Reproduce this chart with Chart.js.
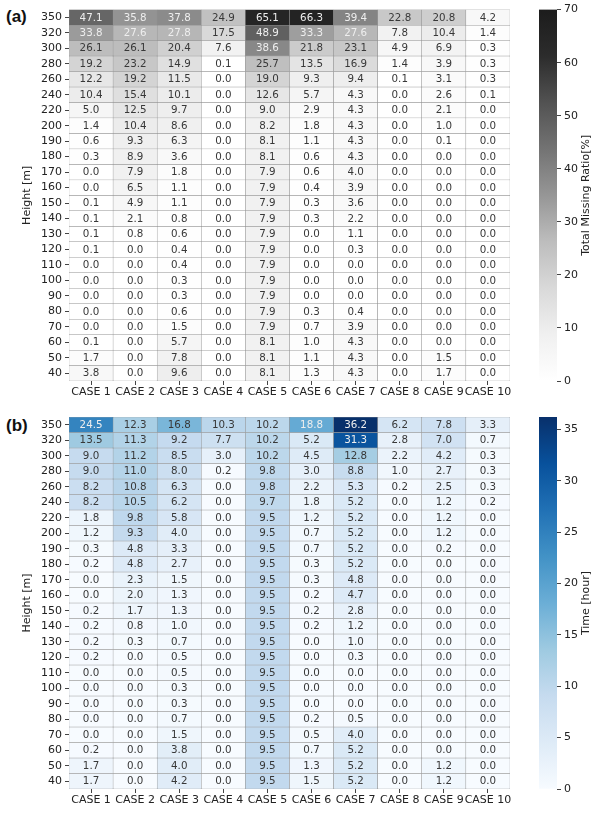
<!DOCTYPE html>
<html>
<head>
<meta charset="utf-8">
<script src="https://cdn.jsdelivr.net/npm/chart.js@4.4.0/dist/chart.umd.min.js"></script>
<style>
  body { margin: 0; background: #fff; width: 593px; height: 813px; position: relative; overflow: hidden; }
  canvas { position: absolute; }
  .tag { position: absolute; font: bold 17px "Liberation Sans", sans-serif; color: #111; }
</style>
</head>
<body>
<div class="tag" style="left:6px;top:7px">(a)</div>
<div class="tag" style="left:6px;top:416px">(b)</div>
<canvas id="heatA" width="522" height="405" style="left:0;top:0"></canvas>
<canvas id="barA" width="63" height="405" style="left:530px;top:0"></canvas>
<canvas id="heatB" width="522" height="408" style="left:0;top:405px"></canvas>
<canvas id="barB" width="63" height="408" style="left:530px;top:405px"></canvas>
<script>
const heights = [350, 320, 300, 280, 260, 240, 220, 200, 190, 180, 170, 160, 150, 140, 130, 120, 110, 100, 90, 80, 70, 60, 50, 40];
const cases = ['CASE 1', 'CASE 2', 'CASE 3', 'CASE 4', 'CASE 5', 'CASE 6', 'CASE 7', 'CASE 8', 'CASE 9', 'CASE 10'];

// (a) total missing ratio [%], one row per height, top to bottom
const missingRatio = [
  [47.1, 35.8, 37.8, 24.9, 65.1, 66.3, 39.4, 22.8, 20.8, 4.2],
  [33.8, 27.6, 27.8, 17.5, 48.9, 33.3, 27.6, 7.8, 10.4, 1.4],
  [26.1, 26.1, 20.4, 7.6, 38.6, 21.8, 23.1, 4.9, 6.9, 0.3],
  [19.2, 23.2, 14.9, 0.1, 25.7, 13.5, 16.9, 1.4, 3.9, 0.3],
  [12.2, 19.2, 11.5, 0.0, 19.0, 9.3, 9.4, 0.1, 3.1, 0.3],
  [10.4, 15.4, 10.1, 0.0, 12.6, 5.7, 4.3, 0.0, 2.6, 0.1],
  [5.0, 12.5, 9.7, 0.0, 9.0, 2.9, 4.3, 0.0, 2.1, 0.0],
  [1.4, 10.4, 8.6, 0.0, 8.2, 1.8, 4.3, 0.0, 1.0, 0.0],
  [0.6, 9.3, 6.3, 0.0, 8.1, 1.1, 4.3, 0.0, 0.1, 0.0],
  [0.3, 8.9, 3.6, 0.0, 8.1, 0.6, 4.3, 0.0, 0.0, 0.0],
  [0.0, 7.9, 1.8, 0.0, 7.9, 0.6, 4.0, 0.0, 0.0, 0.0],
  [0.0, 6.5, 1.1, 0.0, 7.9, 0.4, 3.9, 0.0, 0.0, 0.0],
  [0.1, 4.9, 1.1, 0.0, 7.9, 0.3, 3.6, 0.0, 0.0, 0.0],
  [0.1, 2.1, 0.8, 0.0, 7.9, 0.3, 2.2, 0.0, 0.0, 0.0],
  [0.1, 0.8, 0.6, 0.0, 7.9, 0.0, 1.1, 0.0, 0.0, 0.0],
  [0.1, 0.0, 0.4, 0.0, 7.9, 0.0, 0.3, 0.0, 0.0, 0.0],
  [0.0, 0.0, 0.4, 0.0, 7.9, 0.0, 0.0, 0.0, 0.0, 0.0],
  [0.0, 0.0, 0.3, 0.0, 7.9, 0.0, 0.0, 0.0, 0.0, 0.0],
  [0.0, 0.0, 0.3, 0.0, 7.9, 0.0, 0.0, 0.0, 0.0, 0.0],
  [0.0, 0.0, 0.6, 0.0, 7.9, 0.3, 0.4, 0.0, 0.0, 0.0],
  [0.0, 0.0, 1.5, 0.0, 7.9, 0.7, 3.9, 0.0, 0.0, 0.0],
  [0.1, 0.0, 5.7, 0.0, 8.1, 1.0, 4.3, 0.0, 0.0, 0.0],
  [1.7, 0.0, 7.8, 0.0, 8.1, 1.1, 4.3, 0.0, 1.5, 0.0],
  [3.8, 0.0, 9.6, 0.0, 8.1, 1.3, 4.3, 0.0, 1.7, 0.0]
];

// (b) time [hour]
const missingTime = [
  [24.5, 12.3, 16.8, 10.3, 10.2, 18.8, 36.2, 6.2, 7.8, 3.3],
  [13.5, 11.3, 9.2, 7.7, 10.2, 5.2, 31.3, 2.8, 7.0, 0.7],
  [9.0, 11.2, 8.5, 3.0, 10.2, 4.5, 12.8, 2.2, 4.2, 0.3],
  [9.0, 11.0, 8.0, 0.2, 9.8, 3.0, 8.8, 1.0, 2.7, 0.3],
  [8.2, 10.8, 6.3, 0.0, 9.8, 2.2, 5.3, 0.2, 2.5, 0.3],
  [8.2, 10.5, 6.2, 0.0, 9.7, 1.8, 5.2, 0.0, 1.2, 0.2],
  [1.8, 9.8, 5.8, 0.0, 9.5, 1.2, 5.2, 0.0, 1.2, 0.0],
  [1.2, 9.3, 4.0, 0.0, 9.5, 0.7, 5.2, 0.0, 1.2, 0.0],
  [0.3, 4.8, 3.3, 0.0, 9.5, 0.7, 5.2, 0.0, 0.2, 0.0],
  [0.2, 4.8, 2.7, 0.0, 9.5, 0.3, 5.2, 0.0, 0.0, 0.0],
  [0.0, 2.3, 1.5, 0.0, 9.5, 0.3, 4.8, 0.0, 0.0, 0.0],
  [0.0, 2.0, 1.3, 0.0, 9.5, 0.2, 4.7, 0.0, 0.0, 0.0],
  [0.2, 1.7, 1.3, 0.0, 9.5, 0.2, 2.8, 0.0, 0.0, 0.0],
  [0.2, 0.8, 1.0, 0.0, 9.5, 0.2, 1.2, 0.0, 0.0, 0.0],
  [0.2, 0.3, 0.7, 0.0, 9.5, 0.0, 1.0, 0.0, 0.0, 0.0],
  [0.2, 0.0, 0.5, 0.0, 9.5, 0.0, 0.3, 0.0, 0.0, 0.0],
  [0.0, 0.0, 0.5, 0.0, 9.5, 0.0, 0.0, 0.0, 0.0, 0.0],
  [0.0, 0.0, 0.3, 0.0, 9.5, 0.0, 0.0, 0.0, 0.0, 0.0],
  [0.0, 0.0, 0.3, 0.0, 9.5, 0.0, 0.0, 0.0, 0.0, 0.0],
  [0.0, 0.0, 0.7, 0.0, 9.5, 0.2, 0.5, 0.0, 0.0, 0.0],
  [0.0, 0.0, 1.5, 0.0, 9.5, 0.5, 4.0, 0.0, 0.0, 0.0],
  [0.2, 0.0, 3.8, 0.0, 9.5, 0.7, 5.2, 0.0, 0.0, 0.0],
  [1.7, 0.0, 4.0, 0.0, 9.5, 1.3, 5.2, 0.0, 1.2, 0.0],
  [1.7, 0.0, 4.2, 0.0, 9.5, 1.5, 5.2, 0.0, 1.2, 0.0]
];

const ratioTicks = [0, 10, 20, 30, 40, 50, 60, 70];
const ratioMax = 70;
const timeTicks = [0, 5, 10, 15, 20, 25, 30, 35];
const timeMax = 36.2;

// colormaps (greys is a bit softened at the dark end, like the picture)
const greys = ['#ffffff', '#f0f0f0', '#d9d9d9', '#bdbdbd', '#969696', '#737373', '#525252', '#2c2c2c', '#1c1c1c'];
const blues = ['#f7fbff', '#deebf7', '#c6dbef', '#9ecae1', '#6baed6', '#4292c6', '#2171b5', '#08519c', '#08306b'];

function hexRgb(h) {
  return [1, 3, 5].map(i => parseInt(h.slice(i, i + 2), 16));
}

function colorAt(stops, t) {
  t = Math.max(0, Math.min(1, t));
  const p = t * (stops.length - 1);
  const i = Math.min(Math.floor(p), stops.length - 2);
  const f = p - i;
  const a = hexRgb(stops[i]), b = hexRgb(stops[i + 1]);
  const c = a.map((v, k) => Math.round(v + (b[k] - v) * f));
  return 'rgb(' + c.join(',') + ')';
}

const tickFont = { family: 'DejaVu Sans', size: 11 };

// write value into each cell
const cellText = {
  id: 'cellText',
  afterDatasetsDraw(chart, args, opts) {
    if (!opts.lightAbove) return;
    const ctx = chart.ctx;
    ctx.save();
    ctx.font = '10.3px "DejaVu Sans"';
    ctx.textAlign = 'center';
    ctx.textBaseline = 'middle';
    chart.data.datasets.forEach((ds, i) => {
      chart.getDatasetMeta(i).data.forEach((bar, j) => {
        const v = ds.values[j];
        const c = bar.getCenterPoint();
        ctx.fillStyle = v > opts.lightAbove ? '#eeeeee' : '#383838';
        ctx.fillText(v.toFixed(1), c.x, c.y + 0.5);
      });
    });
    ctx.restore();
  }
};

// colorbar label, read bottom to top
const cbTitle = {
  id: 'cbTitle',
  afterDraw(chart, args, opts) {
    if (!opts.text) return;
    const a = chart.chartArea;
    const ctx = chart.ctx;
    ctx.save();
    ctx.translate(opts.x, (a.top + a.bottom) / 2);
    ctx.rotate(-Math.PI / 2);
    ctx.font = '11px "DejaVu Sans"';
    ctx.fillStyle = '#222';
    ctx.textAlign = 'center';
    ctx.textBaseline = 'middle';
    ctx.fillText(opts.text, 0, 0);
    ctx.restore();
  }
};

Chart.register(cellText, cbTitle);

function drawHeatmap(id, values, stops, vmax, lightAbove, padTop) {
  const n = heights.length;
  const datasets = heights.map((h, k) => ({
    label: String(h),
    data: cases.map(() => [n - 1 - k, n - k]),
    values: values[k],
    backgroundColor: values[k].map(v => colorAt(stops, v / vmax)),
    borderColor: '#8f8f8f',
    borderWidth: 0.5,
    borderSkipped: false,
    grouped: false,
    barPercentage: 1,
    categoryPercentage: 1
  }));

  new Chart(document.getElementById(id), {
    type: 'bar',
    data: { labels: cases, datasets: datasets },
    options: {
      responsive: false,
      animation: false,
      layout: { padding: { top: padTop, right: 12, left: 0, bottom: 0 } },
      plugins: {
        legend: { display: false },
        tooltip: { enabled: false },
        cellText: { lightAbove: lightAbove }
      },
      scales: {
        x: {
          type: 'category',
          offset: true,
          grid: { offset: false, drawOnChartArea: false, tickLength: 4, color: '#444' },
          border: { display: false },
          ticks: { autoSkip: false, maxRotation: 0, minRotation: 0, color: '#222', font: tickFont, padding: 1 },
          afterFit: s => { s.height = 24; }
        },
        y: {
          type: 'linear',
          min: 0,
          max: n,
          afterBuildTicks: s => { s.ticks = heights.map((h, k) => ({ value: n - 0.5 - k })); },
          grid: { drawOnChartArea: false, tickLength: 4, color: '#444' },
          border: { display: false },
          ticks: {
            autoSkip: false,
            color: '#222',
            font: tickFont,
            padding: 3,
            callback: v => heights[Math.round(n - 0.5 - v)]
          },
          title: { display: true, text: 'Height [m]', color: '#222', font: tickFont, padding: { top: 21, bottom: 0 } },
          afterFit: s => { s.width = 69; }
        }
      }
    }
  });
}

function drawColorbar(id, stops, vmax, tickVals, label, padTop, padBottom) {
  new Chart(document.getElementById(id), {
    type: 'bar',
    data: {
      labels: [label],
      datasets: [{
        data: [[0, vmax]],
        barPercentage: 1,
        categoryPercentage: 1,
        borderWidth: 0,
        backgroundColor: c => {
          const chart = c.chart;
          if (!chart.chartArea) return stops[0];
          const ys = chart.scales.y;
          const g = chart.ctx.createLinearGradient(0, ys.getPixelForValue(0), 0, ys.getPixelForValue(vmax));
          stops.forEach((s, i) => g.addColorStop(i / (stops.length - 1), s));
          return g;
        }
      }]
    },
    options: {
      responsive: false,
      animation: false,
      layout: { padding: { top: padTop, bottom: padBottom, left: 9, right: 0 } },
      plugins: {
        legend: { display: false },
        tooltip: { enabled: false },
        cbTitle: { text: label, x: 56 }
      },
      scales: {
        x: { display: false },
        y: {
          position: 'right',
          min: 0,
          max: vmax,
          afterBuildTicks: s => { s.ticks = tickVals.map(v => ({ value: v })); },
          grid: { drawOnChartArea: false, tickLength: 4, color: '#444' },
          border: { display: false },
          ticks: { autoSkip: false, color: '#222', font: { family: 'DejaVu Sans', size: 11 }, padding: 3 },
          afterFit: s => { s.width = 36; }
        }
      }
    }
  });
}

drawHeatmap('heatA', missingRatio, greys, ratioMax, 27, 8);
drawColorbar('barA', greys, ratioMax, ratioTicks, 'Total Missing Ratio[%]', 8, 24);
drawHeatmap('heatB', missingTime, blues, timeMax, 17.5, 12);
drawColorbar('barB', blues, timeMax, timeTicks, 'Time [hour]', 12, 24);
</script>
</body>
</html>
